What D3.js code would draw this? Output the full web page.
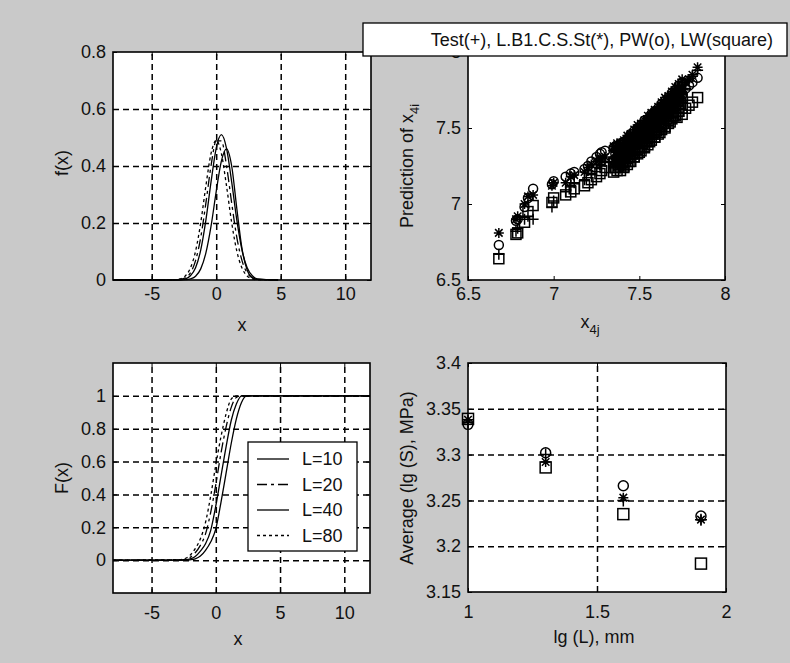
<!DOCTYPE html>
<html>
<head>
<meta charset="utf-8">
<style>
  body { margin: 0; background: #c9c9c9; }
  svg { display: block; font-family: "Liberation Sans", Arial, sans-serif; }
  .grid line { stroke: #000; stroke-width: 1.5; stroke-dasharray: 6,4; }
  .grid .domain { display: none; }
  .ax .domain { display: none; }
  .ax line { stroke: #000; stroke-width: 1; }
  .ax text { font-size: 18px; fill: #111; }
</style>
</head>
<body>
<script src="https://cdnjs.cloudflare.com/ajax/libs/d3/7.8.5/d3.min.js"></script>
<script>
// ---- data ----
// f(x), density curves
var pdfX  = [-8, -3.2, -2.8, -2.4, -2.0, -1.6, -1.2, -0.8, -0.4, 0, 0.4, 0.8, 1.2, 1.6, 2.0, 2.4, 2.8, 3.2, 4.8];
var pdf10 = [0, 0, 0, 0.001, 0.004, 0.013, 0.039, 0.095, 0.189, 0.310, 0.417, 0.46, 0.40, 0.25, 0.11, 0.035, 0.008, 0.002, 0];
var pdf20 = [0, 0, 0.002, 0.008, 0.025, 0.068, 0.149, 0.270, 0.401, 0.488, 0.488, 0.401, 0.270, 0.149, 0.068, 0.025, 0.008, 0.002, 0];
var pdf40 = [0, 0, 0.001, 0.004, 0.015, 0.043, 0.105, 0.210, 0.344, 0.462, 0.51, 0.462, 0.344, 0.210, 0.105, 0.043, 0.015, 0.004, 0];
var pdf80 = [0, 0.001, 0.004, 0.014, 0.042, 0.101, 0.201, 0.330, 0.444, 0.49, 0.444, 0.330, 0.201, 0.101, 0.042, 0.014, 0.004, 0.001, 0];

// F(x), cumulative curves
var cdfX  = [-8, -2.8, -2.4, -2.0, -1.6, -1.2, -0.8, -0.4, 0, 0.4, 0.8, 1.2, 1.6, 2.0, 2.4, 2.8, 12];
var cdf10 = [0, 0, 0, 0.002, 0.008, 0.025, 0.06, 0.11, 0.19, 0.35, 0.53, 0.71, 0.86, 0.96, 1, 1, 1];
var cdf20 = [0, 0.001, 0.005, 0.017, 0.045, 0.09, 0.16, 0.29, 0.46, 0.65, 0.81, 0.93, 0.99, 1, 1, 1, 1];
var cdf40 = [0, 0, 0.002, 0.007, 0.022, 0.055, 0.10, 0.18, 0.33, 0.51, 0.69, 0.85, 0.95, 1, 1, 1, 1];
var cdf80 = [0, 0.003, 0.01, 0.03, 0.07, 0.13, 0.23, 0.39, 0.58, 0.75, 0.89, 0.98, 1, 1, 1, 1, 1];
var curveNames = ['L=10', 'L=20', 'L=40', 'L=80'];

// prediction scatter, single specimens
var x4j   = [6.68, 6.78, 6.79, 6.83, 6.85, 6.88, 6.99, 7.00, 7.07, 7.10, 7.12, 7.18, 7.20, 7.22, 7.25, 7.27,
             7.28, 7.30, 7.36, 7.38, 7.40, 7.41, 7.43, 7.44, 7.46, 7.47, 7.49, 7.50, 7.52, 7.53, 7.55, 7.56,
             7.58, 7.59, 7.60, 7.62, 7.63, 7.65, 7.67, 7.68, 7.70, 7.72, 7.73, 7.75, 7.77, 7.79, 7.81, 7.84];
var predTest = [6.67, 6.82, 6.84, 6.90, 6.92, 6.90, 6.98, 7.02, 7.08, 7.12, 7.14, 7.16, 7.22, 7.20, 7.24, 7.26,
                7.25, 7.28, 7.30, 7.34, 7.33, 7.38, 7.36, 7.42, 7.40, 7.45, 7.44, 7.49, 7.48, 7.53, 7.51, 7.56,
                7.55, 7.60, 7.58, 7.63, 7.61, 7.66, 7.64, 7.70, 7.68, 7.74, 7.72, 7.78, 7.76, 7.81, 7.84, 7.88];
var predLB1  = [6.81, 6.90, 6.92, 7.00, 7.05, 7.06, 7.12, 7.14, 7.14, 7.18, 7.19, 7.21, 7.24, 7.26, 7.28, 7.30,
                7.29, 7.31, 7.36, 7.32, 7.38, 7.35, 7.41, 7.37, 7.44, 7.40, 7.47, 7.44, 7.51, 7.47, 7.55, 7.50,
                7.58, 7.54, 7.61, 7.57, 7.64, 7.61, 7.68, 7.65, 7.72, 7.70, 7.76, 7.74, 7.80, 7.82, 7.85, 7.90];
var predPW   = [6.73, 6.89, 6.90, 6.98, 7.04, 7.10, 7.13, 7.15, 7.18, 7.20, 7.21, 7.23, 7.25, 7.28, 7.31, 7.33,
                7.34, 7.35, 7.38, 7.36, 7.40, 7.37, 7.42, 7.40, 7.46, 7.43, 7.49, 7.45, 7.52, 7.49, 7.56, 7.52,
                7.59, 7.55, 7.61, 7.58, 7.64, 7.62, 7.67, 7.64, 7.70, 7.68, 7.74, 7.72, 7.76, 7.78, 7.80, 7.83];
var predLW   = [6.64, 6.80, 6.81, 6.88, 6.95, 6.99, 7.01, 7.04, 7.06, 7.08, 7.10, 7.12, 7.14, 7.16, 7.18, 7.20,
                7.22, 7.24, 7.24, 7.26, 7.27, 7.25, 7.30, 7.28, 7.33, 7.31, 7.36, 7.34, 7.40, 7.38, 7.43, 7.41,
                7.46, 7.44, 7.49, 7.47, 7.52, 7.50, 7.55, 7.54, 7.58, 7.57, 7.61, 7.59, 7.63, 7.65, 7.67, 7.70];

// prediction scatter, the crowded band (upper and lower specimen of each x)
var x4jBand    = [7.35, 7.37, 7.39, 7.41, 7.43, 7.45, 7.47, 7.49, 7.51, 7.53, 7.55, 7.57, 7.59, 7.61, 7.63,
                  7.65, 7.67, 7.69, 7.71, 7.73, 7.75];
var bandTestHi = [7.35, 7.36, 7.37, 7.39, 7.41, 7.44, 7.46, 7.48, 7.50, 7.52, 7.55, 7.57, 7.59, 7.61, 7.64,
                  7.66, 7.68, 7.71, 7.73, 7.76, 7.78];
var bandTestLo = [7.25, 7.26, 7.27, 7.29, 7.31, 7.33, 7.36, 7.38, 7.40, 7.42, 7.44, 7.47, 7.49, 7.51, 7.54,
                  7.56, 7.58, 7.61, 7.63, 7.66, 7.68];
var bandLB1Hi  = [7.38, 7.40, 7.40, 7.42, 7.45, 7.46, 7.49, 7.52, 7.53, 7.55, 7.58, 7.60, 7.62, 7.64, 7.67,
                  7.70, 7.71, 7.74, 7.77, 7.79, 7.82];
var bandLB1Lo  = [7.28, 7.29, 7.31, 7.32, 7.33, 7.37, 7.39, 7.41, 7.43, 7.46, 7.47, 7.50, 7.52, 7.55, 7.57,
                  7.59, 7.62, 7.64, 7.66, 7.69, 7.72];
var bandPWHi   = [7.37, 7.38, 7.40, 7.41, 7.43, 7.46, 7.48, 7.50, 7.52, 7.55, 7.56, 7.59, 7.61, 7.63, 7.66,
                  7.68, 7.70, 7.73, 7.75, 7.78, 7.80];
var bandPWLo   = [7.29, 7.30, 7.31, 7.33, 7.35, 7.37, 7.40, 7.42, 7.44, 7.46, 7.49, 7.51, 7.53, 7.55, 7.58,
                  7.60, 7.62, 7.65, 7.67, 7.70, 7.72];
var bandLWHi   = [7.27, 7.28, 7.29, 7.31, 7.33, 7.35, 7.38, 7.40, 7.42, 7.44, 7.46, 7.49, 7.51, 7.53, 7.56,
                  7.58, 7.60, 7.63, 7.65, 7.68, 7.70];
var bandLWLo   = [7.21, 7.22, 7.22, 7.24, 7.26, 7.28, 7.31, 7.33, 7.35, 7.37, 7.39, 7.42, 7.44, 7.46, 7.49,
                  7.51, 7.53, 7.56, 7.58, 7.61, 7.63];
// a middle specimen between the band x values
var x4jMid     = [7.36, 7.38, 7.40, 7.42, 7.44, 7.46, 7.48, 7.50, 7.52, 7.54, 7.56, 7.58, 7.60, 7.62, 7.64,
                  7.66, 7.68, 7.70, 7.72, 7.74];
var midTest    = [7.30, 7.32, 7.33, 7.35, 7.37, 7.40, 7.42, 7.44, 7.46, 7.48, 7.51, 7.53, 7.55, 7.57, 7.60,
                  7.62, 7.64, 7.67, 7.70, 7.72];
var midLB1     = [7.34, 7.35, 7.36, 7.38, 7.40, 7.43, 7.45, 7.47, 7.49, 7.51, 7.54, 7.56, 7.58, 7.61, 7.63,
                  7.65, 7.68, 7.70, 7.72, 7.75];
var midPW      = [7.33, 7.34, 7.36, 7.38, 7.40, 7.42, 7.45, 7.47, 7.49, 7.51, 7.53, 7.56, 7.58, 7.60, 7.63,
                  7.65, 7.67, 7.70, 7.72, 7.75];
var midLW      = [7.24, 7.25, 7.27, 7.28, 7.31, 7.33, 7.36, 7.37, 7.40, 7.41, 7.44, 7.47, 7.48, 7.51, 7.53,
                  7.56, 7.58, 7.60, 7.63, 7.66];

// averages vs lg(L)
var lgL     = [1.0, 1.301, 1.602, 1.903];
var avgTest = [3.335, 3.300, 3.250, 3.229];
var avgLB1  = [3.338, 3.292, 3.253, 3.229];
var avgPW   = [3.333, 3.302, 3.266, 3.233];
var avgLW   = [3.339, 3.286, 3.235, 3.181];

// ---- drawing ----
var W = 790, H = 663;
var svg = d3.select('body').append('svg').attr('width', W).attr('height', H);
svg.append('rect').attr('width', W).attr('height', H).attr('fill', '#c9c9c9');

// line styles for the four L curves
var dashes = [null, '10,4,3,4', null, '3,3'];
var fmt = function (d) { return String(d); };

function panel(o) {
  var g = svg.append('g').attr('transform', 'translate(' + o.left + ',' + o.top + ')');
  var x = d3.scaleLinear().domain(o.xDomain).range([0, o.width]);
  var y = d3.scaleLinear().domain(o.yDomain).range([o.height, 0]);
  g.append('rect').attr('width', o.width).attr('height', o.height).attr('fill', '#fff');
  if (o.xGrid) {
    g.append('g').attr('class', 'grid').attr('transform', 'translate(0,' + o.height + ')')
      .call(d3.axisBottom(x).tickValues(o.xGrid).tickSize(-o.height).tickFormat(''));
    g.append('g').attr('class', 'grid')
      .call(d3.axisLeft(y).tickValues(o.yGrid).tickSize(-o.width).tickFormat(''));
  }
  var data = g.append('g');
  // box
  g.append('rect').attr('width', o.width).attr('height', o.height)
    .attr('fill', 'none').attr('stroke', '#000').attr('stroke-width', 1.6);
  // ticks on four sides, labels bottom and left
  g.append('g').attr('class', 'ax').attr('transform', 'translate(0,' + o.height + ')')
    .call(d3.axisBottom(x).tickValues(o.xTicks).tickSizeInner(-4).tickSizeOuter(0).tickPadding(o.xPad).tickFormat(fmt));
  g.append('g').attr('class', 'ax')
    .call(d3.axisTop(x).tickValues(o.xTicks).tickSizeInner(-4).tickSizeOuter(0).tickFormat(''));
  g.append('g').attr('class', 'ax')
    .call(d3.axisLeft(y).tickValues(o.yTicks).tickSizeInner(-4).tickSizeOuter(0).tickPadding(7).tickFormat(fmt));
  g.append('g').attr('class', 'ax').attr('transform', 'translate(' + o.width + ',0)')
    .call(d3.axisRight(y).tickValues(o.yTicks).tickSizeInner(-4).tickSizeOuter(0).tickFormat(''));
  return { g: g, data: data, x: x, y: y, o: o };
}

function drawCurves(p, xs, series) {
  var line = d3.line().x(function (d) { return p.x(d[0]); }).y(function (d) { return p.y(d[1]); })
    .curve(d3.curveMonotoneX);
  series.forEach(function (ys, i) {
    p.data.append('path')
      .attr('d', line(xs.map(function (v, k) { return [v, ys[k]]; })))
      .attr('fill', 'none').attr('stroke', '#000').attr('stroke-width', 1.3)
      .attr('stroke-dasharray', dashes[i]);
  });
}

// marker shapes
function plus(s) { return 'M' + -s + ',0H' + s + 'M0,' + -s + 'V' + s; }
function star(s) {
  var k = s * 0.75;
  return plus(s) + 'M' + -k + ',' + -k + 'L' + k + ',' + k + 'M' + -k + ',' + k + 'L' + k + ',' + -k;
}
function drawMarkers(p, xs, ys, kind, size) {
  var sel = p.data.selectAll(null).data(xs.map(function (v, k) { return [v, ys[k]]; })).enter();
  var pos = function (d) { return 'translate(' + p.x(d[0]) + ',' + p.y(d[1]) + ')'; };
  var el;
  if (kind === 'o') {
    el = sel.append('circle').attr('r', size).attr('transform', pos);
  } else if (kind === 's') {
    el = sel.append('rect').attr('x', -size).attr('y', -size).attr('width', 2 * size).attr('height', 2 * size)
      .attr('transform', pos);
  } else {
    el = sel.append('path').attr('d', kind === '+' ? plus(size) : star(size)).attr('transform', pos);
  }
  el.attr('fill', 'none').attr('stroke', '#000').attr('stroke-width', 1.5);
}

function label(txt, x, y, rot, sub) {
  var t = svg.append('text').attr('text-anchor', 'middle').attr('font-size', 18).attr('fill', '#111')
    .attr('transform', 'translate(' + x + ',' + y + ')' + (rot ? ' rotate(-90)' : ''));
  t.append('tspan').text(txt);
  if (sub) t.append('tspan').attr('font-size', 13).attr('dy', 6).text(sub);
  return t;
}

// top-left: f(x)
var p1 = panel({ left: 113, top: 52, width: 258, height: 228, xDomain: [-8, 12], yDomain: [0, 0.8],
  xTicks: [-5, 0, 5, 10], yTicks: [0, 0.2, 0.4, 0.6, 0.8], xGrid: [-5, 0, 5, 10], yGrid: [0.2, 0.4, 0.6], xPad: 7 });
drawCurves(p1, pdfX, [pdf10, pdf20, pdf40, pdf80]);
label('x', 242, 331);
label('f(x)', 68, 163, true);

// top-right: predictions
var p2 = panel({ left: 468, top: 52, width: 257, height: 228, xDomain: [6.5, 8], yDomain: [6.5, 8],
  xTicks: [6.5, 7, 7.5, 8], yTicks: [6.5, 7, 7.5, 8], xPad: 7 });
[[x4j, predTest], [x4jBand, bandTestHi], [x4jBand, bandTestLo], [x4jMid, midTest]]
  .forEach(function (s) { drawMarkers(p2, s[0], s[1], '+', 5.5); });
[[x4j, predLB1], [x4jBand, bandLB1Hi], [x4jBand, bandLB1Lo], [x4jMid, midLB1]]
  .forEach(function (s) { drawMarkers(p2, s[0], s[1], '*', 5); });
[[x4j, predPW], [x4jBand, bandPWHi], [x4jBand, bandPWLo], [x4jMid, midPW]]
  .forEach(function (s) { drawMarkers(p2, s[0], s[1], 'o', 4.5); });
[[x4j, predLW], [x4jBand, bandLWHi], [x4jBand, bandLWLo], [x4jMid, midLW]]
  .forEach(function (s) { drawMarkers(p2, s[0], s[1], 's', 5); });
label('x', 590, 328, false, '4j');
label('Prediction of x', 413, 166, true, '4i');

// bottom-left: F(x)
var p3 = panel({ left: 113, top: 363, width: 257, height: 230, xDomain: [-8, 12], yDomain: [-0.2, 1.2],
  xTicks: [-5, 0, 5, 10], yTicks: [0, 0.2, 0.4, 0.6, 0.8, 1], xGrid: [-5, 0, 5, 10], yGrid: [0, 0.2, 0.4, 0.6, 0.8, 1], xPad: 13 });
drawCurves(p3, cdfX, [cdf10, cdf20, cdf40, cdf80]);
label('x', 238, 645);
label('F(x)', 68, 478, true);

// legend of bottom-left
var lg = svg.append('g').attr('transform', 'translate(248,442)');
lg.append('rect').attr('width', 109).attr('height', 109).attr('fill', '#fff').attr('stroke', '#000').attr('stroke-width', 1.3);
curveNames.forEach(function (n, i) {
  var yy = 17 + i * 25.5;
  lg.append('line').attr('x1', 9).attr('x2', 41).attr('y1', yy).attr('y2', yy)
    .attr('stroke', '#000').attr('stroke-width', 1.3).attr('stroke-dasharray', dashes[i]);
  lg.append('text').attr('x', 54).attr('y', yy + 6).attr('font-size', 18).attr('fill', '#111').text(n);
});

// bottom-right: averages
var p4 = panel({ left: 468, top: 363, width: 258, height: 229, xDomain: [1, 2], yDomain: [3.15, 3.4],
  xTicks: [1, 1.5, 2], yTicks: [3.15, 3.2, 3.25, 3.3, 3.35, 3.4], xGrid: [1.5], yGrid: [3.2, 3.25, 3.3, 3.35], xPad: 13 });
drawMarkers(p4, lgL, avgTest, '+', 6);
drawMarkers(p4, lgL, avgLB1, '*', 5);
drawMarkers(p4, lgL, avgPW, 'o', 5);
drawMarkers(p4, lgL, avgLW, 's', 5.5);
label('lg (L), mm', 594, 643);
label('Average (lg (S), MPa)', 413, 478, true);

// legend of top-right panel (drawn last, it covers the panel top)
var lt = svg.append('g');
lt.append('rect').attr('x', 363).attr('y', 23).attr('width', 424).attr('height', 33)
  .attr('fill', '#fff').attr('stroke', '#000').attr('stroke-width', 1.3);
lt.append('text').attr('x', 773).attr('y', 45.5).attr('font-size', 18).attr('fill', '#111')
  .attr('text-anchor', 'end')
  .text('Test(+), L.B1.C.S.St(*), PW(o), LW(square)');
</script>
</body>
</html>
